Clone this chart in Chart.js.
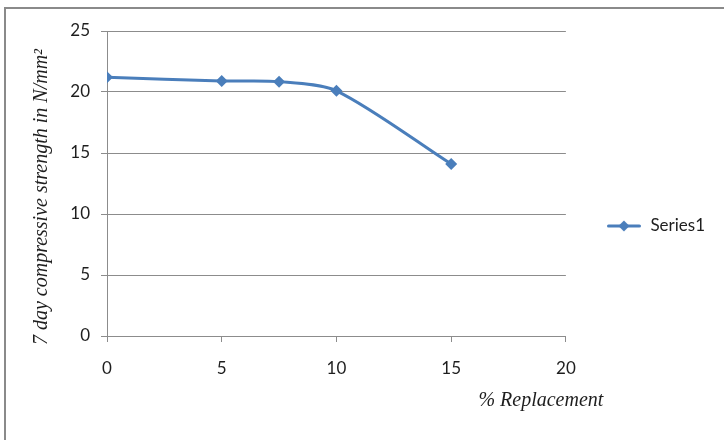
<!DOCTYPE html>
<html>
<head>
<meta charset="utf-8">
<script src="https://cdn.jsdelivr.net/npm/chart.js@4/dist/chart.umd.min.js"></script>
<style>
  html, body { margin: 0; padding: 0; width: 724px; height: 440px; overflow: hidden; background: #fff; }
  #frame { position: absolute; left: 4px; top: 7px; width: 800px; height: 500px; border: 2px solid #8a8a8a; box-sizing: border-box; }
  #wrap { position: absolute; left: 0; top: 0; width: 724px; height: 440px; }
</style>
</head>
<body>
<div id="frame"></div>
<div id="wrap"><canvas id="c" width="724" height="440"></canvas></div>
<script>
// ---- data ----
const replacement = [0, 5, 7.5, 10, 15];
const strength7day = [21.2, 20.9, 20.85, 20.1, 14.1];
const seriesName = 'Series1';
const xTitle = '% Replacement';
const yTitle = '7 day compressive strength in N/mm²';
const xTicks = [0, 5, 10, 15, 20];
const yTicks = [0, 5, 10, 15, 20, 25];

const BLUE = '#4A7EBB';
const GRID = '#8c8c8c';
const TXT = '#1e1e1e';
const tickFont = { family: 'Lato', size: 17 };

// legend icon: line with diamond
const icon = document.createElement('canvas');
icon.width = 34; icon.height = 12;
(function(){
  const g = icon.getContext('2d');
  g.strokeStyle = BLUE; g.lineWidth = 3; g.lineCap = 'round';
  g.beginPath(); g.moveTo(1.5, 6); g.lineTo(32.5, 6); g.stroke();
  g.fillStyle = BLUE;
  g.beginPath(); g.moveTo(17, 0.5); g.lineTo(22.5, 6); g.lineTo(17, 11.5); g.lineTo(11.5, 6); g.closePath(); g.fill();
})();

const titlePlugin = {
  id: 'titles',
  afterDraw(chart) {
    const ctx = chart.ctx;
    const a = chart.chartArea;
    ctx.save();
    ctx.fillStyle = TXT;
    ctx.font = 'italic 20px "Liberation Serif"';
    ctx.textAlign = 'center';
    ctx.textBaseline = 'middle';
    ctx.fillText(xTitle, a.right - 25, 401);
    ctx.translate(42, 197);
    ctx.rotate(-Math.PI / 2);
    ctx.font = 'italic 20px "Liberation Serif"';
    ctx.fillText(yTitle, 0, 0);
    ctx.restore();
  }
};

new Chart(document.getElementById('c'), {
  type: 'line',
  data: {
    datasets: [{
      label: seriesName,
      data: replacement.map((x, i) => ({ x: x, y: strength7day[i] })),
      borderColor: BLUE,
      backgroundColor: BLUE,
      borderWidth: 3,
      tension: 0.28,
      pointStyle: 'rectRot',
      pointRadius: 6,
      pointBorderWidth: 0,
      pointBackgroundColor: BLUE,
      fill: false
    }]
  },
  options: {
    responsive: false,
    animation: false,
    devicePixelRatio: 1,
    layout: { padding: { left: 5, top: 31, right: 9, bottom: 19 } },
    plugins: {
      tooltip: { enabled: false },
      legend: {
        position: 'right',
        labels: {
          usePointStyle: true,
          pointStyleWidth: 36,
          padding: 40,
          color: TXT,
          font: tickFont,
          generateLabels: (chart) => [{
            text: seriesName, pointStyle: icon, fillStyle: BLUE, strokeStyle: BLUE,
            lineWidth: 0, hidden: false, datasetIndex: 0, fontColor: TXT
          }]
        }
      }
    },
    scales: {
      x: {
        type: 'linear',
        min: 0, max: 20,
        afterBuildTicks: (s) => { s.ticks = xTicks.map(v => ({ value: v })); },
        afterFit: (s) => { s.height = 440 - 19 - 336; },
        ticks: { color: TXT, font: tickFont, padding: 16, maxRotation: 0 },
        grid: { display: true, drawOnChartArea: false, drawTicks: true, tickLength: 6, color: GRID, lineWidth: 1 },
        border: { display: true, color: GRID, width: 1 }
      },
      y: {
        min: 0, max: 25,
        afterBuildTicks: (s) => { s.ticks = yTicks.map(v => ({ value: v })); },
        afterFit: (s) => { s.width = 102; },
        ticks: { color: TXT, font: tickFont, padding: 11 },
        grid: { display: true, drawOnChartArea: true, drawTicks: true, tickLength: 6, color: GRID, lineWidth: 1 },
        border: { display: true, color: GRID, width: 1 }
      }
    }
  },
  plugins: [titlePlugin]
});
</script>
</body>
</html>
